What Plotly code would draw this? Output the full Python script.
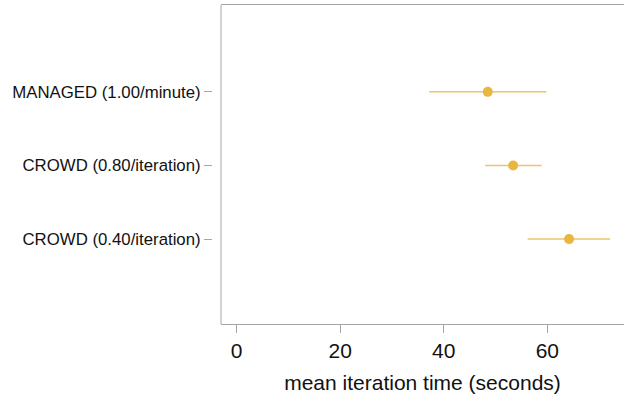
import plotly.graph_objects as go

labels = ["CROWD (0.40/iteration)", "CROWD (0.80/iteration)", "MANAGED (1.00/minute)"]
positions = [1, 2, 3]
means = [64.2, 53.4, 48.5]
lower = [56.2, 48.0, 37.2]
upper = [72.1, 58.9, 59.8]
x_ticks = [0, 20, 40, 60]

err_plus = [u - m for u, m in zip(upper, means)]
err_minus = [m - l for m, l in zip(means, lower)]

fig = go.Figure()
fig.add_trace(go.Scatter(
    x=means, y=positions, mode="markers",
    marker=dict(color="#E9B741", size=10, line=dict(width=0)),
    error_x=dict(type="data", symmetric=False, array=err_plus, arrayminus=err_minus,
                 color="rgba(233,183,65,0.8)", thickness=1.5, width=0),
    showlegend=False, hoverinfo="skip",
))

W, H = 624, 396
ml, mr, mt, mb = 212, 0, 5, 72
pw = W - ml - mr
fig.update_layout(
    width=W, height=H,
    margin=dict(l=ml, r=mr, t=mt, b=mb, pad=0),
    paper_bgcolor="white", plot_bgcolor="white",
    font=dict(family="Liberation Sans, Arial, sans-serif", color="#111111"),
    xaxis=dict(
        domain=[9 / pw, 1], range=[-3.0, 74.8],
        tickvals=x_ticks, ticktext=[str(v) for v in x_ticks],
        ticks="outside", ticklen=8, tickwidth=1, tickcolor="#a6a6a6",
        tickfont=dict(size=21), showgrid=False, zeroline=False,
        showline=True, linecolor="#a6a6a6", linewidth=1, mirror=True,
        title=dict(text="mean iteration time (seconds)", font=dict(size=21), standoff=14),
    ),
    yaxis=dict(
        anchor="free", position=0, range=[-0.153, 4.18],
        tickvals=positions, ticktext=labels,
        ticks="outside", ticklen=8, tickwidth=1, tickcolor="#a6a6a6",
        tickfont=dict(size=16.8), showgrid=False, zeroline=False, showline=False,
    ),
)
fig.add_shape(type="line", xref="x domain", yref="y domain", x0=0, x1=0, y0=0, y1=1,
              line=dict(color="#a6a6a6", width=1))

fig.write_html("out.html", config={"displayModeBar": False},
               post_script="document.body.style.margin='0';document.body.style.overflow='hidden';")
